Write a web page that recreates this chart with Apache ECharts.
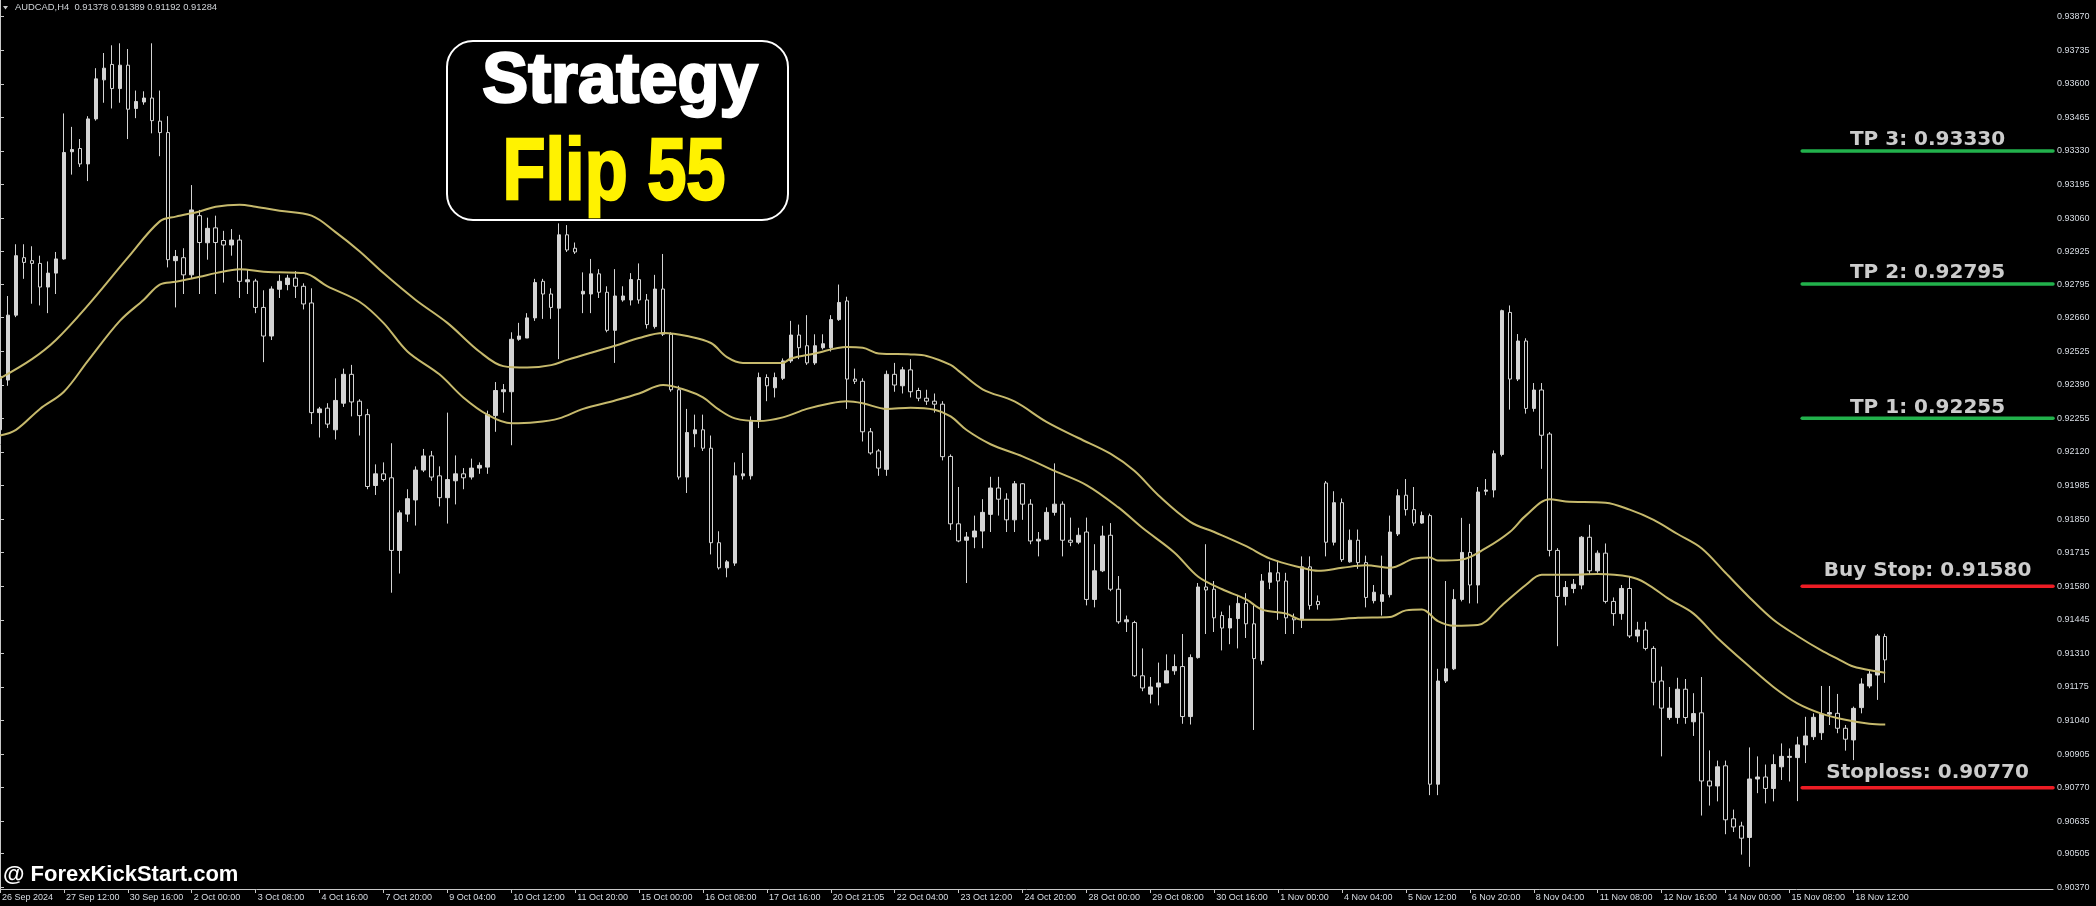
<!DOCTYPE html>
<html>
<head>
<meta charset="utf-8">
<script src="https://cdn.jsdelivr.net/npm/echarts@6/dist/echarts.min.js"></script>
<style>
html,body{margin:0;padding:0;background:#000;}
#chart{width:2096px;height:906px;}
</style>
</head>
<body>
<div id="chart"></div>
<script>
// ---------------- DATA ----------------
const symbolName = 'AUDCAD';
const timeframe = 'H4';

const barOpen = [
0.92209,0.92409,0.92670,0.92901,0.92889,0.92878,0.92783,0.92839,0.92896,0.93327,
0.93340,0.93278,0.93459,0.93616,0.93678,0.93581,0.93675,0.93501,0.93527,0.93543,
0.93450,0.93404,0.92889,0.92901,0.92832,0.93070,0.92961,0.93021,0.92970,0.92952,
0.92972,0.92804,0.92807,0.92701,0.92586,0.92774,0.92793,0.92819,0.92786,0.92719,
0.92278,0.92296,0.92209,0.92316,0.92432,0.92324,0.92270,0.91985,0.92032,0.92016,
0.91724,0.91870,0.91927,0.92047,0.92104,0.92024,0.91936,0.92004,0.92032,0.92019,
0.92055,0.92059,0.92266,0.92362,0.92362,0.92573,0.92578,0.92659,0.92806,0.92755,
0.92698,0.92993,0.92939,0.92755,0.92755,0.92836,0.92762,0.92609,0.92731,0.92731,
0.92813,0.92731,0.92624,0.92775,0.92593,0.92370,0.92019,0.92193,0.92209,0.92135,
0.91755,0.91654,0.91673,0.92024,0.92024,0.92247,0.92419,0.92378,0.92416,0.92486,
0.92590,0.92547,0.92478,0.92539,0.92539,0.92652,0.92727,0.92413,0.92404,0.92201,
0.92124,0.92050,0.92432,0.92386,0.92450,0.92367,0.92336,0.92324,0.92312,0.92102,
0.91831,0.91765,0.91778,0.91802,0.91869,0.91975,0.91930,0.91847,0.91992,0.91910,
0.91762,0.91769,0.91877,0.91910,0.91765,0.91757,0.91798,0.91527,0.91642,0.91785,
0.91568,0.91437,0.91434,0.91220,0.91146,0.91175,0.91191,0.91240,0.91257,0.91056,
0.91293,0.91577,0.91568,0.91462,0.91412,0.91450,0.91511,0.91429,0.91281,0.91596,
0.91634,0.91601,0.91453,0.91445,0.91658,0.91519,0.91995,0.91757,0.91916,0.91678,
0.91765,0.91675,0.91522,0.91519,0.91546,0.91790,0.91946,0.91888,0.91834,0.91864,
0.90784,0.91199,0.91248,0.91527,0.91716,0.91585,0.91962,0.91967,0.92110,0.92681,
0.92413,0.92566,0.92295,0.92369,0.92192,0.91724,0.91539,0.91571,0.91585,0.91777,
0.91642,0.91713,0.91519,0.91470,0.91571,0.91380,0.91404,0.91330,0.91199,0.91052,
0.91052,0.91166,0.91035,0.91071,0.90797,0.90777,0.90858,0.90645,0.90616,0.90570,
0.90805,0.90813,0.90767,0.90854,0.90892,0.90891,0.90942,0.90975,0.90991,0.91066,
0.91069,0.91009,0.90962,0.91092,0.91179,0.91223,0.91378
];
const barHigh = [
0.92447,0.92747,0.92955,0.92955,0.92947,0.92909,0.92886,0.92924,0.93481,0.93427,
0.93378,0.93470,0.93663,0.93724,0.93755,0.93763,0.93740,0.93573,0.93570,0.93763,
0.93573,0.93470,0.92932,0.92939,0.93193,0.93093,0.93062,0.93070,0.93009,0.93016,
0.92993,0.92855,0.92816,0.92770,0.92786,0.92832,0.92832,0.92847,0.92798,0.92778,
0.92301,0.92316,0.92416,0.92455,0.92470,0.92332,0.92293,0.92070,0.92078,0.92155,
0.91885,0.91970,0.92062,0.92132,0.92124,0.92062,0.92278,0.92106,0.92055,0.92093,
0.92078,0.92286,0.92401,0.92393,0.92601,0.92639,0.92678,0.92816,0.92816,0.92778,
0.93039,0.93032,0.92962,0.92842,0.92896,0.92855,0.92786,0.92855,0.92786,0.92839,
0.92878,0.92755,0.92832,0.92916,0.92601,0.92386,0.92293,0.92270,0.92270,0.92186,
0.91801,0.91685,0.92078,0.92116,0.92263,0.92439,0.92432,0.92439,0.92496,0.92647,
0.92632,0.92670,0.92593,0.92593,0.92670,0.92793,0.92744,0.92455,0.92416,0.92216,
0.92132,0.92447,0.92478,0.92462,0.92493,0.92378,0.92370,0.92355,0.92324,0.92110,
0.91979,0.91798,0.91864,0.91930,0.92020,0.92020,0.91954,0.92003,0.91995,0.91930,
0.91798,0.91897,0.92074,0.91921,0.91856,0.91815,0.91856,0.91749,0.91823,0.91834,
0.91621,0.91462,0.91441,0.91330,0.91215,0.91273,0.91306,0.91306,0.91388,0.91306,
0.91593,0.91749,0.91601,0.91478,0.91503,0.91543,0.91552,0.91503,0.91629,0.91680,
0.91683,0.91634,0.91470,0.91700,0.91700,0.91543,0.92003,0.91962,0.91933,0.91808,
0.91808,0.91703,0.91585,0.91703,0.91864,0.91970,0.92011,0.91979,0.91880,0.91872,
0.91248,0.91601,0.91568,0.91855,0.91831,0.91979,0.92011,0.92126,0.92692,0.92709,
0.92594,0.92577,0.92397,0.92397,0.92200,0.91733,0.91601,0.91609,0.91782,0.91827,
0.91724,0.91752,0.91535,0.91585,0.91618,0.91437,0.91437,0.91339,0.91257,0.91175,
0.91212,0.91207,0.91150,0.91215,0.90920,0.90879,0.90879,0.90682,0.90633,0.90932,
0.90896,0.90863,0.90904,0.90948,0.90928,0.90975,0.91055,0.91069,0.91179,0.91179,
0.91147,0.91022,0.91096,0.91210,0.91243,0.91388,0.91389
];
const barLow = [
0.92201,0.92386,0.92662,0.92816,0.92716,0.92709,0.92678,0.92755,0.92893,0.93235,
0.93266,0.93209,0.93452,0.93524,0.93501,0.93524,0.93378,0.93462,0.93516,0.93401,
0.93309,0.92862,0.92701,0.92755,0.92816,0.92755,0.92893,0.92755,0.92801,0.92909,
0.92739,0.92755,0.92678,0.92481,0.92570,0.92739,0.92770,0.92739,0.92693,0.92232,
0.92178,0.92216,0.92170,0.92301,0.92263,0.92186,0.91970,0.91947,0.92001,0.91554,
0.91631,0.91839,0.91824,0.92039,0.92004,0.91901,0.91832,0.91909,0.91970,0.92009,
0.92032,0.92032,0.92201,0.92278,0.92147,0.92567,0.92578,0.92647,0.92655,0.92655,
0.92493,0.92924,0.92916,0.92678,0.92678,0.92739,0.92601,0.92478,0.92724,0.92709,
0.92716,0.92616,0.92616,0.92586,0.92362,0.92009,0.91955,0.92139,0.92124,0.91708,
0.91647,0.91616,0.91662,0.92009,0.92009,0.92216,0.92324,0.92339,0.92409,0.92478,
0.92493,0.92470,0.92470,0.92532,0.92524,0.92647,0.92293,0.92393,0.92162,0.92109,
0.92024,0.92024,0.92362,0.92355,0.92339,0.92324,0.92309,0.92278,0.92086,0.91806,
0.91757,0.91593,0.91733,0.91733,0.91798,0.91864,0.91798,0.91798,0.91847,0.91749,
0.91700,0.91765,0.91864,0.91700,0.91741,0.91749,0.91503,0.91495,0.91637,0.91560,
0.91429,0.91396,0.91215,0.91158,0.91109,0.91101,0.91191,0.91224,0.91027,0.91024,
0.91289,0.91388,0.91396,0.91322,0.91347,0.91330,0.91372,0.91002,0.91265,0.91568,
0.91445,0.91388,0.91388,0.91412,0.91486,0.91486,0.91700,0.91744,0.91678,0.91675,
0.91650,0.91495,0.91511,0.91462,0.91535,0.91782,0.91864,0.91823,0.91831,0.90740,
0.90740,0.91191,0.91243,0.91519,0.91511,0.91511,0.91946,0.91937,0.92102,0.92290,
0.92405,0.92274,0.92282,0.92052,0.91700,0.91339,0.91503,0.91552,0.91568,0.91626,
0.91634,0.91511,0.91421,0.91445,0.91372,0.91355,0.91322,0.91101,0.90896,0.91043,
0.91027,0.91027,0.90978,0.90658,0.90698,0.90715,0.90583,0.90592,0.90501,0.90452,
0.90748,0.90707,0.90715,0.90801,0.90795,0.90716,0.90869,0.90962,0.90962,0.91022,
0.90989,0.90919,0.90881,0.91069,0.91170,0.91123,0.91192
];
const barClose = [
0.92424,0.92670,0.92909,0.92882,0.92878,0.92783,0.92839,0.92896,0.93324,0.93336,
0.93278,0.93459,0.93620,0.93663,0.93581,0.93675,0.93498,0.93529,0.93543,0.93452,
0.93404,0.92893,0.92906,0.92832,0.93093,0.92962,0.93019,0.92962,0.92952,0.92972,
0.92806,0.92812,0.92701,0.92586,0.92775,0.92806,0.92819,0.92786,0.92715,0.92278,
0.92293,0.92232,0.92327,0.92432,0.92321,0.92266,0.91981,0.92032,0.92009,0.91724,
0.91875,0.91932,0.92047,0.92104,0.92019,0.91936,0.92009,0.92032,0.92016,0.92055,
0.92066,0.92270,0.92367,0.92370,0.92573,0.92586,0.92659,0.92801,0.92755,0.92701,
0.92993,0.92932,0.92924,0.92766,0.92836,0.92762,0.92609,0.92747,0.92747,0.92813,
0.92731,0.92632,0.92775,0.92593,0.92370,0.92019,0.92198,0.92209,0.92135,0.91755,
0.91654,0.91678,0.92024,0.92032,0.92247,0.92419,0.92386,0.92419,0.92486,0.92590,
0.92539,0.92478,0.92547,0.92555,0.92652,0.92721,0.92413,0.92404,0.92201,0.92116,
0.92055,0.92432,0.92389,0.92450,0.92362,0.92336,0.92324,0.92312,0.92101,0.91831,
0.91762,0.91778,0.91802,0.91877,0.91975,0.91930,0.91847,0.91992,0.91910,0.91762,
0.91769,0.91877,0.91910,0.91765,0.91757,0.91785,0.91527,0.91642,0.91782,0.91568,
0.91437,0.91445,0.91220,0.91171,0.91175,0.91191,0.91240,0.91257,0.91056,0.91293,
0.91577,0.91565,0.91453,0.91412,0.91450,0.91511,0.91429,0.91289,0.91601,0.91634,
0.91601,0.91453,0.91445,0.91658,0.91503,0.91506,0.91757,0.91916,0.91687,0.91765,
0.91675,0.91535,0.91556,0.91546,0.91798,0.91944,0.91888,0.91834,0.91864,0.90784,
0.91199,0.91248,0.91527,0.91716,0.91585,0.91959,0.91967,0.92113,0.92688,0.92413,
0.92566,0.92295,0.92369,0.92187,0.91724,0.91539,0.91575,0.91588,0.91777,0.91642,
0.91713,0.91519,0.91470,0.91571,0.91380,0.91404,0.91330,0.91194,0.91090,0.91090,
0.91166,0.91052,0.91068,0.90797,0.90777,0.90854,0.90641,0.90612,0.90567,0.90805,
0.90813,0.90767,0.90863,0.90896,0.90896,0.90942,0.90978,0.91053,0.91066,0.91072,
0.91009,0.90965,0.91089,0.91187,0.91227,0.91380,0.91284
];

// moving-average envelope: [bar index, price]
const maUpper = [
[0,0.92416],[4,0.92493],[7,0.92570],[11,0.92709],[16,0.92901],[20,0.93047],[22,0.93066],[25,0.93087],
[27,0.93106],[30,0.93114],[32,0.93106],[35,0.93090],[39,0.93070],[42,0.93004],[45,0.92927],[48,0.92839],
[52,0.92732],[56,0.92639],[60,0.92524],[63,0.92465],[66,0.92459],[69,0.92469],[71,0.92490],[74,0.92519],
[77,0.92547],[80,0.92578],[83,0.92598],[86,0.92586],[89,0.92558],[91,0.92501],[93,0.92478],[98,0.92478],
[99,0.92496],[102,0.92516],[106,0.92542],[108,0.92539],[110,0.92516],[114,0.92512],[116,0.92506],[119,0.92470],
[120,0.92446],[123,0.92372],[127,0.92323],[131,0.92241],[135,0.92176],[139,0.92113],[142,0.92044],[145,0.91946],
[149,0.91839],[152,0.91798],[156,0.91741],[159,0.91691],[163,0.91654],[165,0.91642],[168,0.91654],[171,0.91664],
[174,0.91654],[177,0.91691],[179,0.91696],[180,0.91683],[183,0.91687],[186,0.91733],[189,0.91798],[191,0.91864],
[194,0.91930],[196,0.91921],[201,0.91916],[204,0.91888],[207,0.91847],[210,0.91790],[213,0.91733],[216,0.91634],
[219,0.91535],[222,0.91445],[225,0.91380],[228,0.91322],[230,0.91289],[232,0.91257],[235,0.91237],[236,0.91232]
];
const maLower = [
[0,0.92186],[2,0.92209],[5,0.92293],[8,0.92362],[11,0.92486],[15,0.92647],[18,0.92732],[20,0.92793],
[22,0.92804],[25,0.92824],[27,0.92839],[30,0.92855],[33,0.92844],[35,0.92842],[38,0.92839],[41,0.92786],
[45,0.92724],[48,0.92639],[51,0.92524],[55,0.92432],[58,0.92339],[61,0.92270],[64,0.92235],[67,0.92239],
[70,0.92255],[73,0.92293],[77,0.92327],[80,0.92355],[83,0.92389],[86,0.92367],[88,0.92339],[90,0.92290],
[92,0.92255],[95,0.92244],[98,0.92259],[101,0.92293],[104,0.92316],[106,0.92324],[108,0.92316],[111,0.92293],
[114,0.92298],[117,0.92290],[119,0.92263],[121,0.92208],[124,0.92151],[128,0.92102],[132,0.92044],[136,0.91987],
[140,0.91897],[143,0.91815],[147,0.91716],[150,0.91618],[153,0.91568],[156,0.91527],[158,0.91486],[161,0.91470],
[163,0.91445],[166,0.91445],[170,0.91453],[174,0.91456],[176,0.91483],[178,0.91486],[180,0.91440],[182,0.91421],
[185,0.91424],[188,0.91503],[191,0.91585],[193,0.91626],[196,0.91626],[200,0.91629],[204,0.91618],[206,0.91593],
[209,0.91527],[212,0.91470],[215,0.91372],[219,0.91257],[222,0.91175],[225,0.91109],[228,0.91068],[231,0.91043],
[234,0.91027],[236,0.91024]
];

const levelNames  = ['TP 3', 'TP 2', 'TP 1', 'Buy Stop', 'Stoploss'];
const levelValues = [0.93330, 0.92795, 0.92255, 0.91580, 0.90770];
const levelKinds  = ['tp', 'tp', 'tp', 'entry', 'stop'];

const xTickLabels = ['26 Sep 2024','27 Sep 12:00','30 Sep 16:00','2 Oct 00:00','3 Oct 08:00','4 Oct 16:00',
'7 Oct 20:00','9 Oct 04:00','10 Oct 12:00','11 Oct 20:00','15 Oct 00:00','16 Oct 08:00','17 Oct 16:00',
'20 Oct 21:05','22 Oct 04:00','23 Oct 12:00','24 Oct 20:00','28 Oct 00:00','29 Oct 08:00','30 Oct 16:00',
'1 Nov 00:00','4 Nov 04:00','5 Nov 12:00','6 Nov 20:00','8 Nov 04:00','11 Nov 08:00','12 Nov 16:00',
'14 Nov 00:00','15 Nov 08:00','18 Nov 12:00'];
const yTickLabels = ['0.93870','0.93735','0.93600','0.93465','0.93330','0.93195','0.93060','0.92925','0.92795',
'0.92660','0.92525','0.92390','0.92255','0.92120','0.91985','0.91850','0.91715','0.91580','0.91445','0.91310',
'0.91175','0.91040','0.90905','0.90770','0.90635','0.90505','0.90370'];

const titleLine1 = 'Strategy';
const titleLine2 = 'Flip 55';
const watermark = '@ ForexKickStart.com';

// ---------------- LAYOUT / STYLE ----------------
const X_TICK_EVERY = 8;
const EMPTY_BARS_RIGHT = 21;
const Y_MIN = 0.903627, Y_MAX = 0.939371;
const LEVEL_START = 225.6;
const AXIS_COLOR = '#c8c8c8';
const LABEL_COLOR = '#d8dde4';
const SMALL_FONT = '"Liberation Sans", Arial, sans-serif';
const CANDLE_COLOR = '#d4d4d4';
const MA_COLOR = '#c6b96c';
const LEVEL_COLOR = {tp: '#22b14c', entry: '#ed1c24', stop: '#ed1c24'};
const LEVEL_GAP = {tp: 1, entry: 5, stop: 5};

const nBars = barOpen.length;
const nCats = nBars + EMPTY_BARS_RIGHT;
const categories = Array.from({length: nCats}, (_, i) => String(i));
const ohlc = barOpen.map((o, i) => [o, barClose[i], barLow[i], barHigh[i]]);
const yTickValues = yTickLabels.map(parseFloat);
const last = nBars - 1;
const f5 = v => v.toFixed(5);
const headerText = symbolName + ',' + timeframe + '  ' + f5(barOpen[last]) + ' ' + f5(barHigh[last]) + ' ' + f5(barLow[last]) + ' ' + f5(barClose[last]);

const tickShown = (idx) => idx % X_TICK_EVERY === 0 && idx / X_TICK_EVERY < xTickLabels.length;

const series = [
  {
    type: 'candlestick',
    xAxisIndex: 0, yAxisIndex: 0,
    data: ohlc,
    barWidth: 4,
    silent: true,
    itemStyle: {color: CANDLE_COLOR, color0: '#000000', borderColor: CANDLE_COLOR, borderColor0: CANDLE_COLOR, borderWidth: 1},
    markLine: {
      silent: true, symbol: 'none', animation: false,
      lineStyle: {width: 0, opacity: 0},
      label: {show: true, position: 'end', distance: 1, formatter: () => f5(barClose[last]),
        backgroundColor: '#c8c8c8', color: '#000', fontSize: 9, fontFamily: SMALL_FONT, padding: [1, 3, 0, 3]},
      data: [{yAxis: barClose[last]}]
    }
  },
  {type: 'line', xAxisIndex: 1, yAxisIndex: 0, data: maUpper, smooth: 0.35, symbol: 'none', silent: true,
   lineStyle: {color: MA_COLOR, width: 2}},
  {type: 'line', xAxisIndex: 1, yAxisIndex: 0, data: maLower, smooth: 0.35, symbol: 'none', silent: true,
   lineStyle: {color: MA_COLOR, width: 2}}
];
levelValues.forEach((v, k) => {
  const kind = levelKinds[k];
  series.push({type: 'line', xAxisIndex: 1, yAxisIndex: 0, symbol: 'none', silent: true,
    data: [[LEVEL_START, v], [nCats - 1, v]],
    lineStyle: {color: LEVEL_COLOR[kind], width: 3.5, cap: 'round'}});
  series.push({type: 'scatter', xAxisIndex: 1, yAxisIndex: 0, symbolSize: 0, silent: true,
    data: [[(LEVEL_START + nCats - 1) / 2, v]],
    label: {show: true, position: 'top', distance: LEVEL_GAP[kind], formatter: levelNames[k] + ': ' + f5(v),
      color: '#ffffff', fontSize: 20, fontWeight: 'bold', fontFamily: '"DejaVu Sans", Verdana, sans-serif'}});
});

const chart = echarts.init(document.getElementById('chart'), null, {renderer: 'canvas'});
chart.setOption({
  backgroundColor: '#000000',
  animation: false,
  grid: {left: 0, right: 43, top: 0, bottom: 17, containLabel: false, outerBoundsMode: 'none'},
  xAxis: [
    {
      type: 'category', data: categories, boundaryGap: false, gridIndex: 0,
      axisLine: {show: true, lineStyle: {color: AXIS_COLOR, width: 1}},
      axisTick: {show: true, interval: tickShown, length: 4, lineStyle: {color: AXIS_COLOR}},
      axisLabel: {show: true, interval: tickShown, formatter: (val, idx) => xTickLabels[idx / X_TICK_EVERY] || '',
        align: 'left', padding: [0, 0, 0, 2], margin: 4, color: LABEL_COLOR, fontSize: 9, fontFamily: SMALL_FONT},
      splitLine: {show: false}
    },
    {type: 'value', min: 0, max: nCats - 1, show: false, gridIndex: 0}
  ],
  yAxis: {
    type: 'value', position: 'right', min: Y_MIN, max: Y_MAX,
    splitLine: {show: false},
    axisLine: {show: true, lineStyle: {color: AXIS_COLOR, width: 1}},
    axisTick: {show: true, customValues: yTickValues, length: 4, lineStyle: {color: AXIS_COLOR}},
    axisLabel: {show: true, customValues: yTickValues, margin: 4, color: LABEL_COLOR, fontSize: 9, fontFamily: SMALL_FONT,
      formatter: (v) => {
        let best = 0;
        yTickValues.forEach((t, i) => { if (Math.abs(t - v) < Math.abs(yTickValues[best] - v)) best = i; });
        return yTickLabels[best];
      }}
  },
  series: series,
  graphic: [
    {type: 'polygon', shape: {points: [[3, 6], [8, 6], [5.5, 9.5]]}, style: {fill: '#c8c8c8'}},
    {type: 'text', x: 15, y: 7.5, style: {text: headerText, fill: '#d0d4d8', fontSize: 9.4, fontFamily: SMALL_FONT, verticalAlign: 'middle'}},
    {type: 'rect', shape: {x: 447, y: 41, width: 341, height: 179, r: 26}, style: {fill: '#000', stroke: '#ffffff', lineWidth: 2}},
    {type: 'text', x: 620, y: 82, scaleX: 0.97, style: {text: titleLine1, fill: '#ffffff', stroke: '#ffffff', lineWidth: 2.5,
      fontSize: 71, fontWeight: 'bold', fontFamily: '"Liberation Sans", Arial, sans-serif', align: 'center', verticalAlign: 'middle'}},
    {type: 'text', x: 614, y: 175, scaleX: 0.8, style: {text: titleLine2, fill: '#fff200', stroke: '#fff200', lineWidth: 2.5,
      fontSize: 88, fontWeight: 'bold', fontFamily: '"Liberation Sans", Arial, sans-serif', align: 'center', verticalAlign: 'middle'}},
    {type: 'text', x: 3, y: 875, style: {text: watermark, fill: '#ffffff', fontSize: 22, fontWeight: 'bold',
      fontFamily: '"Liberation Sans", Arial, sans-serif', verticalAlign: 'middle'}}
  ]
});
</script>
</body>
</html>
